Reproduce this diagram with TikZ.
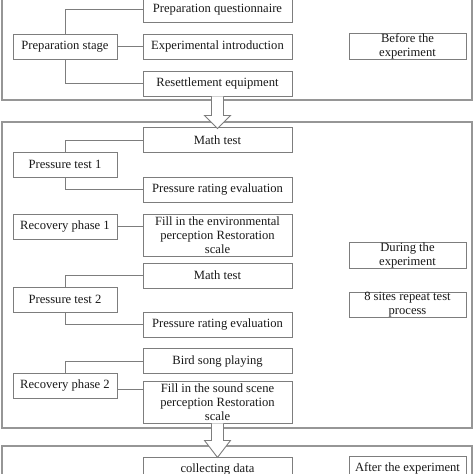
\documentclass[tikz,border=0pt]{standalone}
\usepackage{fontspec}
\setmainfont{Liberation Serif}
\usetikzlibrary{calc}
\definecolor{edgegray}{RGB}{125,125,125}
\definecolor{outergray}{RGB}{150,150,150}
\definecolor{txt}{RGB}{25,25,25}
\begin{document}
\begin{tikzpicture}[x=1pt,y=-1pt,
  box/.style={draw=edgegray,line width=0.9pt,fill=white,text=txt,inner sep=0pt,align=center,
    font=\fontsize{12.6}{14}\selectfont},
  midbox/.style={box,minimum width=149pt,minimum height=25pt},
  tallbox/.style={box,minimum width=149pt,minimum height=42pt},
  leftbox/.style={box,minimum width=104pt,minimum height=25pt},
  rightbox/.style={box,minimum width=117pt,minimum height=25pt},
  link/.style={draw=edgegray,line width=0.9pt},
  frame/.style={draw=outergray,line width=1.6pt},
  hollow/.style={draw=edgegray,line width=0.9pt,fill=white,line join=miter}]
\useasboundingbox (0,0) rectangle (474,474);
% outer frames
\draw[frame] (2,-6) rectangle (472,100);
\draw[frame] (2,122) rectangle (472,428);
\draw[frame] (2,446) rectangle (472,490);
% stage 1
\node[midbox] (pq) at (217.5,9.5) {Preparation questionnaire};
\node[midbox] (ei) at (217.5,46.5) {Experimental introduction};
\node[midbox] (re) at (217.5,83.5) {Resettlement equipment};
\node[leftbox] (ps) at (65,46.5) {Preparation stage};
\node[rightbox] (bte) at (407.5,46.5) {Before the\\experiment};
\draw[link] (ps.north) |- (pq.west);
\draw[link] (ps.south) |- (re.west);
\draw[link] (ps.east) -- (ei.west);
% stage 2
\node[midbox] (mt1) at (217.5,140) {Math test};
\node[leftbox] (pt1) at (65,164.5) {Pressure test 1};
\node[midbox] (pre1) at (217.5,189.5) {Pressure rating evaluation};
\draw[link] (pt1.north) |- (mt1.west);
\draw[link] (pt1.south) |- (pre1.west);
\node[leftbox] (rp1) at (65,226.5) {Recovery phase 1};
\node[tallbox] (fe) at (217.5,235) {Fill in the environmental\\perception Restoration\\scale};
\draw[link] (rp1.east) -- (rp1.east -| fe.west);
\node[rightbox] (dte) at (407.5,255.5) {During the\\experiment};
\node[rightbox] (s8) at (407.5,304.5) {8 sites repeat test\\process};
\node[midbox] (mt2) at (217.5,275.5) {Math test};
\node[leftbox] (pt2) at (65,299.5) {Pressure test 2};
\node[midbox] (pre2) at (217.5,324.5) {Pressure rating evaluation};
\draw[link] (pt2.north) |- (mt2.west);
\draw[link] (pt2.south) |- (pre2.west);
\node[midbox] (bs) at (217.5,361) {Bird song playing};
\node[leftbox] (rp2) at (65,385.5) {Recovery phase 2};
\node[tallbox] (fs) at (217.5,402) {Fill in the sound scene\\perception Restoration\\scale};
\draw[link] (rp2.north) |- (bs.west);
\coordinate (rp2out) at ($(rp2.east)+(0,4)$);
\draw[link] (rp2out) -- (rp2out -| fs.west);
% stage 3
\node[midbox] (cd) at (217.5,469.5) {collecting data};
\node[rightbox] (ate) at (407.5,468.5) {After the experiment};
% hollow arrows
\draw[hollow] ($(re.south)+(-6,0)$) -- ($(re.south)+(-6,19)$) -- ($(re.south)+(-13,19)$)
  -- ($(re.south)+(0,32)$) -- ($(re.south)+(13,19)$) -- ($(re.south)+(6,19)$) -- ($(re.south)+(6,0)$);
\draw[hollow] ($(fs.south)+(-6,0)$) -- ($(fs.south)+(-6,17)$) -- ($(fs.south)+(-13,17)$)
  -- ($(fs.south)+(0,34)$) -- ($(fs.south)+(13,17)$) -- ($(fs.south)+(6,17)$) -- ($(fs.south)+(6,0)$);
\end{tikzpicture}
\end{document}
